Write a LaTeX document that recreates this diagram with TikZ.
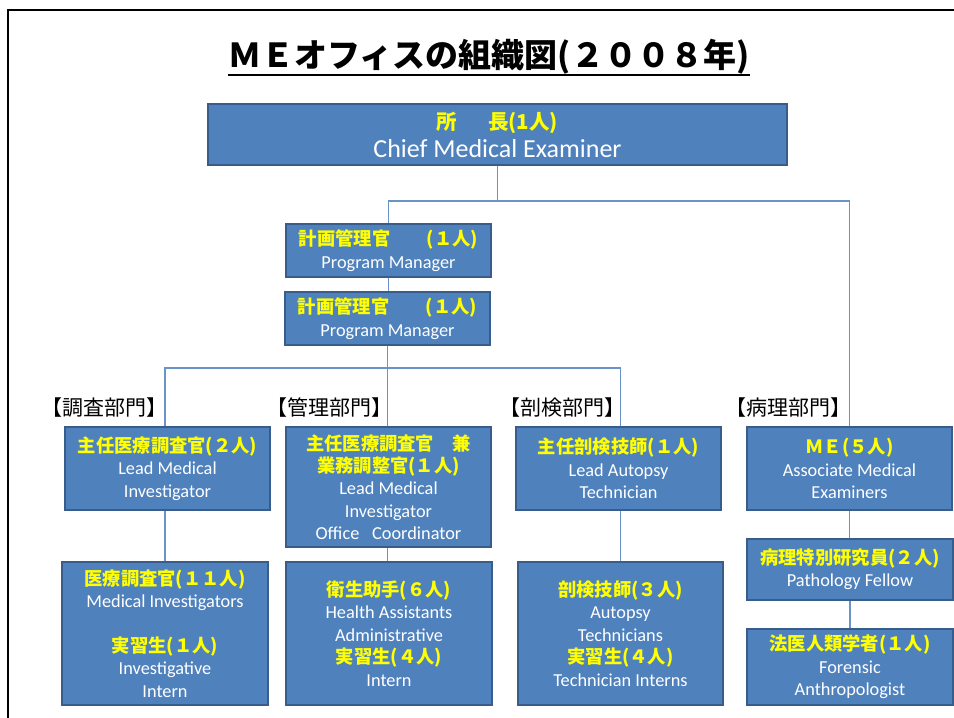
\documentclass[tikz,border=0pt]{standalone}
\usepackage{fontspec}
\setmainfont{Carlito}
\newfontfamily\jp{Noto Sans CJK JP}
\usetikzlibrary{backgrounds}
\definecolor{boxfill}{HTML}{4F81BD}
\definecolor{boxline}{HTML}{385D8A}
\definecolor{conncol}{HTML}{6A93C8}
\definecolor{jyel}{HTML}{FFFF00}
\newcommand{\jy}[1]{{\jp\bfseries\color{jyel}#1}}
\tikzset{
  orgbox/.style={draw=boxline, line width=2pt, fill=boxfill, text=white, align=center,
    inner sep=0pt, font=\fontsize{18.3}{22.4}\selectfont},
  conn/.style={draw=conncol, line width=1.1pt},
  sect/.style={font=\jp\fontsize{21}{24}\selectfont, inner sep=0pt, anchor=east},
}
\begin{document}
\begin{tikzpicture}[x=1pt,y=-1pt]
\useasboundingbox (0,0) rectangle (954,718);
% slide frame
\draw[line width=2.5pt, black] (8,718) -- (8,10) -- (954,10);
% title
\node[inner sep=0pt, font=\jp\bfseries\fontsize{33}{36}\selectfont] (title) at (489,57) {ＭＥオフィスの組織図(２００８年)};
\draw[line width=2pt] (title.west |- 0,75) -- (title.east |- 0,75);

% boxes
\node[orgbox, minimum width=579pt, minimum height=61pt, font=\fontsize{26}{28}\selectfont] (top) at (497.5,134.5)
  {\jy{\fontsize{20.5}{28}\selectfont 所\hspace{1.5em}長(1人)}\\Chief Medical Examiner};
\node[orgbox, minimum width=205pt, minimum height=53pt] (pm1) at (388.5,250.5)
  {\jy{計画管理官　　(１人)}\\Program Manager};
\node[orgbox, minimum width=205pt, minimum height=53pt] (pm2) at (387.5,318.5)
  {\jy{計画管理官　　(１人)}\\Program Manager};

\node[sect] (s1) at (168,408) {【調査部門】};
\node[sect] (s2) at (393,408) {【管理部門】};
\node[sect] (s3) at (626,408) {【剖検部門】};
\node[sect] (s4) at (852,408) {【病理部門】};

\node[orgbox, minimum width=205pt, minimum height=83pt] (b1) at (167.5,468.5)
  {\jy{主任医療調査官(２人)}\\Lead Medical\\Investigator};
\node[orgbox, minimum width=205pt, minimum height=120pt] (b2) at (388.5,487)
  {\jy{主任医療調査官　兼}\\\jy{業務調整官(１人)}\\Lead Medical\\Investigator\\Office\hspace{0.7em}Coordinator};
\node[orgbox, minimum width=205pt, minimum height=83pt] (b3) at (618.5,468.5)
  {\jy{主任剖検技師(１人)}\\Lead Autopsy\\Technician};
\node[orgbox, minimum width=205pt, minimum height=83pt] (b4) at (849.5,468.5)
  {\jy{ＭＥ(５人)}\\Associate Medical\\Examiners};

\node[orgbox, minimum width=206pt, minimum height=143pt] (b5) at (165,633.5)
  {\jy{医療調査官(１１人)}\\Medical Investigators\\[22.4pt]\jy{実習生(１人)}\\Investigative\\Intern};
\node[orgbox, minimum width=206pt, minimum height=143pt] (b6) at (389,633.5)
  {\jy{衛生助手(６人)}\\Health Assistants\\Administrative\\\jy{実習生(４人)}\\Intern};
\node[orgbox, minimum width=205pt, minimum height=143pt] (b7) at (620.5,633.5)
  {\jy{剖検技師(３人)}\\Autopsy\\Technicians\\\jy{実習生(４人)}\\Technician Interns};
\node[orgbox, minimum width=206pt, minimum height=61pt] (b8) at (850,569.5)
  {\jy{病理特別研究員(２人)}\\Pathology Fellow};
\node[orgbox, minimum width=206pt, minimum height=76pt] (b9) at (850,667)
  {\jy{法医人類学者(１人)}\\Forensic\\Anthropologist};

% connectors
\begin{scope}[on background layer]
\coordinate (jA) at (top.south |- 0,201);
\coordinate (jB) at (pm2.south |- 0,368);
\draw[conn] (top.south) -- (jA);
\draw[conn] (pm1.north) |- (jA) -| (b4.north);
\draw[conn] (pm1.south) -- (pm1.south |- pm2.north);
\draw[conn] (pm2.south) -- (jB);
\draw[conn] (b5.north) -- (b5.north |- jB) -- (b7.north |- jB) -- (b7.north);
\draw[conn] (jB) -- (jB |- b6.north);
\draw[conn] (b4.south) -- (b4.south |- b8.north);
\draw[conn] (b8.south) -- (b8.south |- b9.north);
\end{scope}
\end{tikzpicture}
\end{document}
